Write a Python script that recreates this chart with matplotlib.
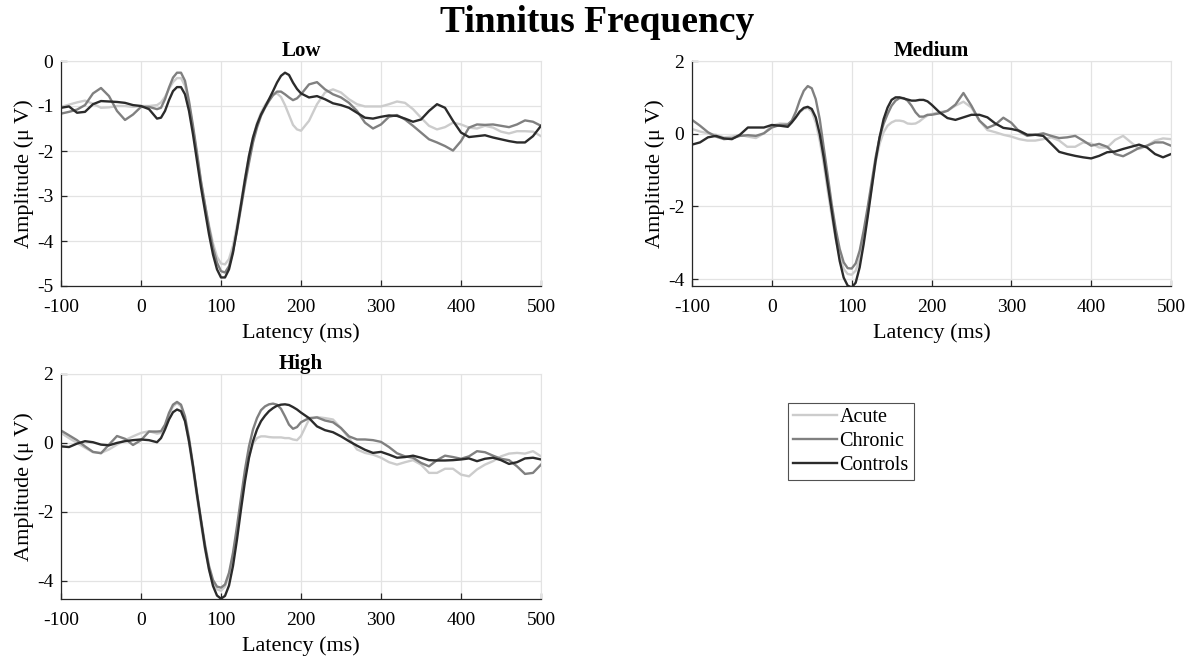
import numpy as np
import matplotlib
matplotlib.use("Agg")
import matplotlib.pyplot as plt

plt.rcParams['font.family'] = ['Liberation Serif', 'DejaVu Serif']
plt.rcParams['axes.unicode_minus'] = False

# latency grid (ms): 10 ms steps, 5 ms around the P1/N1/P2 complex
t_ms = list(range(-100, 21, 10)) + list(range(25, 201, 5)) + list(range(210, 501, 10))

low_acute = [-1.02, -0.97, -0.92, -0.88, -0.95, -1.04, -1.03, -1.0, -1.0, -1.02, -1.0, -1.0, -0.98,
             -0.92, -0.80, -0.62, -0.47, -0.38, -0.38, -0.55, -0.95, -1.50, -2.10, -2.70, -3.20,
             -3.65, -4.05, -4.35, -4.50, -4.52, -4.40, -4.10, -3.65, -3.15, -2.60, -2.10, -1.70,
             -1.38, -1.15, -0.98, -0.85, -0.75, -0.72, -0.80, -0.98, -1.20, -1.42, -1.52, -1.55,
             -1.33, -0.96, -0.70, -0.63, -0.70, -0.85, -0.96, -1.01, -1.01, -1.01, -0.96, -0.90,
             -0.93, -1.07, -1.26, -1.44, -1.52, -1.47, -1.37, -1.41, -1.48, -1.50, -1.44, -1.48,
             -1.57, -1.61, -1.56, -1.56, -1.57, -1.67]
low_chronic = [-1.17, -1.13, -1.08, -0.98, -0.72, -0.60, -0.78, -1.11, -1.31, -1.19, -1.02, -1.02, -1.07,
               -1.04, -0.85, -0.59, -0.37, -0.26, -0.26, -0.44, -0.89, -1.44, -2.04, -2.67, -3.19,
               -3.70, -4.15, -4.48, -4.67, -4.70, -4.56, -4.22, -3.78, -3.26, -2.74, -2.26, -1.81,
               -1.48, -1.22, -1.04, -0.89, -0.76, -0.68, -0.68, -0.74, -0.81, -0.87, -0.83, -0.74,
               -0.52, -0.47, -0.63, -0.74, -0.81, -0.93, -1.11, -1.37, -1.50, -1.41, -1.24, -1.20,
               -1.30, -1.44, -1.59, -1.74, -1.81, -1.89, -1.99, -1.78, -1.48, -1.41, -1.42, -1.41,
               -1.44, -1.47, -1.41, -1.32, -1.35, -1.44]
low_controls = [-1.04, -1.01, -1.15, -1.13, -0.96, -0.89, -0.90, -0.91, -0.93, -0.98, -1.0, -1.07, -1.28,
                -1.26, -1.11, -0.87, -0.67, -0.58, -0.58, -0.74, -1.11, -1.63, -2.22, -2.81, -3.33,
                -3.85, -4.30, -4.63, -4.81, -4.81, -4.63, -4.26, -3.74, -3.19, -2.63, -2.11, -1.70,
                -1.41, -1.19, -1.02, -0.85, -0.67, -0.48, -0.33, -0.26, -0.31, -0.48, -0.62, -0.72,
                -0.81, -0.78, -0.85, -0.94, -0.98, -1.04, -1.15, -1.26, -1.28, -1.24, -1.21, -1.22,
                -1.28, -1.35, -1.30, -1.11, -0.96, -1.04, -1.33, -1.59, -1.69, -1.67, -1.65, -1.70,
                -1.74, -1.78, -1.81, -1.81, -1.67, -1.44]

med_acute = [0.13, 0.06, 0.01, -0.03, -0.10, -0.08, -0.03, -0.08, -0.12, 0.01, 0.22, 0.28, 0.27,
             0.34, 0.45, 0.59, 0.68, 0.71, 0.61, 0.31, -0.19, -0.83, -1.57, -2.26, -2.90,
             -3.40, -3.72, -3.86, -3.88, -3.77, -3.45, -2.90, -2.21, -1.48, -0.79, -0.28, 0.04,
             0.22, 0.31, 0.36, 0.36, 0.34, 0.28, 0.27, 0.28, 0.34, 0.43, 0.50, 0.54,
             0.59, 0.63, 0.77, 0.88, 0.72, 0.36, 0.10, 0.04, -0.03, -0.08, -0.15, -0.19,
             -0.19, -0.15, -0.10, -0.19, -0.36, -0.36, -0.24, -0.27, -0.38, -0.38, -0.17, -0.06,
             -0.24, -0.42, -0.33, -0.19, -0.13, -0.15]
med_chronic = [0.38, 0.22, 0.04, -0.08, -0.15, -0.13, -0.06, -0.04, -0.06, 0.01, 0.17, 0.24, 0.25,
               0.36, 0.60, 0.92, 1.18, 1.31, 1.25, 0.95, 0.40, -0.38, -1.15, -1.94, -2.62,
               -3.17, -3.54, -3.70, -3.71, -3.57, -3.22, -2.67, -2.03, -1.34, -0.65, -0.10, 0.27,
               0.54, 0.77, 0.91, 0.98, 0.98, 0.91, 0.77, 0.59, 0.47, 0.47, 0.52, 0.52,
               0.56, 0.63, 0.80, 1.12, 0.77, 0.36, 0.16, 0.25, 0.44, 0.30, 0.06, -0.06,
               -0.03, 0.01, -0.06, -0.12, -0.10, -0.06, -0.19, -0.33, -0.28, -0.36, -0.56, -0.62,
               -0.51, -0.39, -0.33, -0.24, -0.24, -0.33]
med_controls = [-0.30, -0.24, -0.10, -0.06, -0.13, -0.15, -0.03, 0.17, 0.17, 0.17, 0.24, 0.22, 0.19,
                0.31, 0.45, 0.61, 0.71, 0.74, 0.68, 0.45, -0.01, -0.65, -1.39, -2.12, -2.85,
                -3.50, -3.96, -4.18, -4.23, -4.10, -3.68, -3.04, -2.30, -1.52, -0.74, -0.10, 0.40,
                0.72, 0.93, 1.00, 1.00, 0.97, 0.94, 0.91, 0.91, 0.93, 0.93, 0.89, 0.80,
                0.59, 0.43, 0.38, 0.45, 0.52, 0.52, 0.45, 0.28, 0.16, 0.13, 0.08, -0.03,
                -0.03, -0.06, -0.28, -0.50, -0.56, -0.61, -0.65, -0.68, -0.61, -0.51, -0.49, -0.42,
                -0.36, -0.30, -0.38, -0.56, -0.65, -0.56]

high_acute = [0.29, 0.14, 0.0, -0.14, -0.27, -0.29, -0.19, -0.05, 0.08, 0.19, 0.29, 0.34, 0.27,
              0.29, 0.48, 0.82, 1.06, 1.16, 1.06, 0.68, 0.0, -0.77, -1.59, -2.37, -3.09,
              -3.67, -4.06, -4.25, -4.29, -4.17, -3.84, -3.29, -2.56, -1.74, -0.97, -0.39, -0.02,
              0.14, 0.19, 0.19, 0.17, 0.16, 0.16, 0.16, 0.14, 0.14, 0.10, 0.08, 0.20,
              0.68, 0.75, 0.72, 0.68, 0.43, 0.14, -0.19, -0.29, -0.34, -0.43, -0.56, -0.63,
              -0.56, -0.50, -0.63, -0.87, -0.87, -0.75, -0.75, -0.92, -0.97, -0.77, -0.63, -0.53,
              -0.39, -0.31, -0.29, -0.31, -0.24, -0.39]
high_chronic = [0.36, 0.22, 0.08, -0.10, -0.26, -0.30, -0.05, 0.20, 0.12, -0.06, 0.08, 0.33, 0.33,
                0.34, 0.53, 0.87, 1.11, 1.19, 1.11, 0.77, 0.14, -0.63, -1.45, -2.22, -2.95,
                -3.57, -3.98, -4.17, -4.20, -4.11, -3.77, -3.19, -2.42, -1.59, -0.77, -0.10, 0.39,
                0.72, 0.95, 1.06, 1.12, 1.14, 1.11, 0.99, 0.77, 0.53, 0.41, 0.46, 0.60,
                0.72, 0.74, 0.65, 0.60, 0.43, 0.19, 0.10, 0.10, 0.08, 0.03, -0.12, -0.30,
                -0.39, -0.43, -0.58, -0.68, -0.50, -0.37, -0.41, -0.46, -0.39, -0.24, -0.27, -0.37,
                -0.46, -0.50, -0.68, -0.90, -0.87, -0.63]
high_controls = [-0.10, -0.12, -0.02, 0.05, 0.02, -0.05, -0.07, 0.0, 0.05, 0.08, 0.10, 0.08, 0.02,
                 0.14, 0.39, 0.68, 0.89, 0.97, 0.92, 0.63, 0.05, -0.68, -1.50, -2.27, -3.04,
                 -3.67, -4.15, -4.43, -4.52, -4.44, -4.14, -3.57, -2.80, -1.93, -1.11, -0.43, 0.05,
                 0.39, 0.63, 0.79, 0.92, 1.01, 1.08, 1.11, 1.12, 1.10, 1.04, 0.97, 0.88,
                 0.72, 0.48, 0.37, 0.31, 0.19, 0.05, -0.08, -0.20, -0.29, -0.26, -0.34, -0.43,
                 -0.41, -0.37, -0.43, -0.50, -0.51, -0.51, -0.50, -0.48, -0.45, -0.53, -0.46, -0.43,
                 -0.50, -0.61, -0.56, -0.45, -0.43, -0.48]

groups = ['Acute', 'Chronic', 'Controls']
colors = ['#cccccc', '#808080', '#2b2b2b']
x_ticks = [-100, 0, 100, 200, 300, 400, 500]

W, H = 1194, 661
fig = plt.figure(figsize=(W / 100, H / 100), dpi=100)

def px_axes(l, t, r, b):
    return fig.add_axes([l / W, 1 - b / H, (r - l) / W, (b - t) / H])

panels = [
    ('Low', px_axes(61, 61, 541, 286), [low_acute, low_chronic, low_controls], (-5, 0), [-5, -4, -3, -2, -1, 0]),
    ('Medium', px_axes(692, 61, 1171, 286), [med_acute, med_chronic, med_controls], (-4.19, 2), [-4, -2, 0, 2]),
    ('High', px_axes(61, 374, 541, 599), [high_acute, high_chronic, high_controls], (-4.53, 2), [-4, -2, 0, 2]),
]

grid_col = '#e3e3e3'
lines = []
for name, ax, series, ylim, yticks in panels:
    for vals, c, g in zip(series, colors, groups):
        ln, = ax.plot(t_ms, vals, color=c, lw=1.7, label=g)
        if name == 'Low':
            lines.append(ln)
    ax.set_xlim(-100, 500)
    ax.set_ylim(*ylim)
    ax.set_xticks(x_ticks)
    ax.set_yticks(yticks)
    ax.grid(True, color=grid_col, lw=0.9)
    ax.set_axisbelow(True)
    for s in ['top', 'right']:
        ax.spines[s].set_color(grid_col)
    for s in ['left', 'bottom']:
        ax.spines[s].set_color('#262626')
        ax.spines[s].set_linewidth(0.9)
    ax.tick_params(direction='in', length=4, width=0.9, labelsize=14, color='#262626')
    ax.tick_params(axis='x', pad=9.5)
    ax.tick_params(axis='y', pad=5.5)
    ax.set_title(name, fontsize=15, fontweight='bold', pad=3)
    ax.set_xlabel('Latency (ms)', fontsize=16, labelpad=5)
    ax.set_ylabel('Amplitude (μ V)', fontsize=16, labelpad=2)

fig.text(0.5, 1 - 22 / H, 'Tinnitus Frequency', ha='center', va='center',
         fontsize=27, fontweight='bold')

leg = fig.legend(lines, groups, loc='upper left', bbox_to_anchor=(788 / W, 1 - 403 / H),
                 fontsize=14.5, frameon=True, fancybox=False, edgecolor='#262626',
                 handlelength=2.2, handletextpad=0.1, labelspacing=0.25,
                 borderpad=0.25, borderaxespad=0)
leg.get_frame().set_linewidth(0.8)

fig.savefig('out.png', dpi=100)
